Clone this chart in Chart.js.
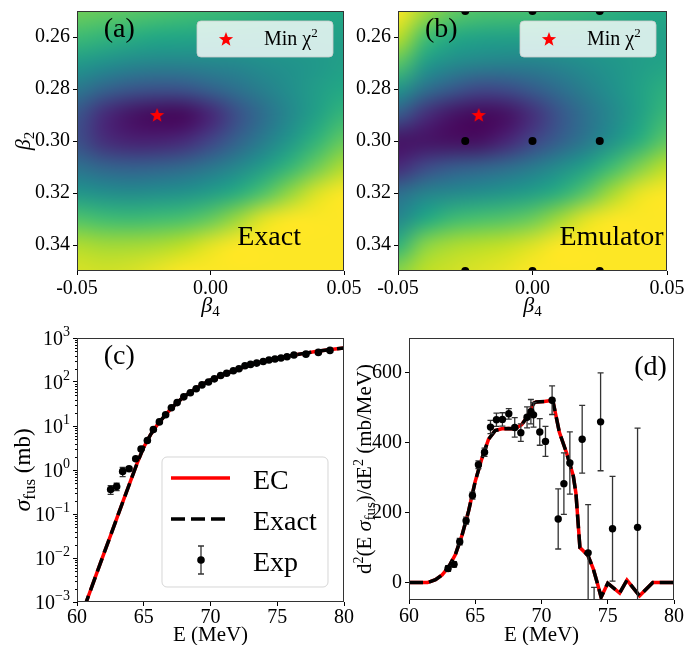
<!DOCTYPE html>
<html>
<head>
<meta charset="utf-8">
<script src="https://cdn.jsdelivr.net/npm/chart.js@4.4.1/dist/chart.umd.min.js"></script>
<style>
  body { margin: 0; background: #fff; }
  #fig { position: relative; width: 687px; height: 645px; overflow: hidden; background: #fff; }
  #fig canvas { position: absolute; }
</style>
</head>
<body>
<div id="fig">
  <canvas id="chA" width="372" height="320" style="left:0;top:0"></canvas>
  <canvas id="chB" width="357" height="320" style="left:330px;top:0"></canvas>
  <canvas id="chC" width="372" height="325" style="left:0;top:320px"></canvas>
  <canvas id="chD" width="357" height="325" style="left:330px;top:320px"></canvas>
</div>
<script>
// ---- datos (a)/(b): nivel de chi2 normalizado (0 = violeta, 1 = amarillo) ----
const b4Grid = [-0.05, -0.04, -0.03, -0.02, -0.01, 0.00, 0.01, 0.02, 0.03, 0.04, 0.05];
const b2Grid = [0.25, 0.26, 0.27, 0.28, 0.29, 0.30, 0.31, 0.32, 0.33, 0.34, 0.35];
const chiExact = [
  [0.78, 0.76, 0.74, 0.72, 0.70, 0.68, 0.66, 0.64, 0.62, 0.61, 0.60],
  [0.68, 0.65, 0.62, 0.60, 0.59, 0.58, 0.57, 0.56, 0.56, 0.56, 0.56],
  [0.54, 0.50, 0.47, 0.45, 0.45, 0.46, 0.47, 0.49, 0.51, 0.53, 0.56],
  [0.40, 0.32, 0.27, 0.25, 0.26, 0.31, 0.37, 0.43, 0.49, 0.55, 0.60],
  [0.26, 0.12, 0.05, 0.02, 0.02, 0.10, 0.24, 0.36, 0.47, 0.57, 0.66],
  [0.24, 0.13, 0.09, 0.09, 0.12, 0.20, 0.31, 0.42, 0.53, 0.65, 0.76],
  [0.37, 0.32, 0.30, 0.31, 0.34, 0.39, 0.46, 0.55, 0.66, 0.78, 0.88],
  [0.52, 0.49, 0.48, 0.49, 0.51, 0.55, 0.62, 0.72, 0.84, 0.95, 1.00],
  [0.72, 0.69, 0.68, 0.69, 0.71, 0.76, 0.85, 0.96, 1.00, 1.00, 1.00],
  [0.88, 0.86, 0.86, 0.87, 0.90, 0.96, 1.00, 1.00, 1.00, 1.00, 1.00],
  [0.94, 0.93, 0.94, 0.97, 1.00, 1.00, 1.00, 1.00, 1.00, 1.00, 1.00],
];
const chiEmu = [
  [1.00, 0.86, 0.76, 0.72, 0.71, 0.70, 0.68, 0.66, 0.63, 0.61, 0.59],
  [0.90, 0.70, 0.61, 0.58, 0.57, 0.57, 0.57, 0.56, 0.56, 0.56, 0.56],
  [0.74, 0.55, 0.48, 0.45, 0.44, 0.44, 0.46, 0.49, 0.52, 0.55, 0.58],
  [0.52, 0.37, 0.28, 0.22, 0.23, 0.29, 0.36, 0.43, 0.50, 0.57, 0.63],
  [0.28, 0.13, 0.05, 0.02, 0.04, 0.13, 0.26, 0.37, 0.47, 0.57, 0.67],
  [0.05, 0.05, 0.04, 0.04, 0.10, 0.20, 0.30, 0.40, 0.51, 0.63, 0.75],
  [0.12, 0.22, 0.28, 0.31, 0.35, 0.41, 0.48, 0.57, 0.69, 0.81, 0.90],
  [0.36, 0.44, 0.47, 0.49, 0.52, 0.56, 0.63, 0.74, 0.87, 0.97, 1.00],
  [0.46, 0.60, 0.68, 0.71, 0.73, 0.77, 0.86, 0.96, 1.00, 1.00, 1.00],
  [0.64, 0.82, 0.87, 0.89, 0.91, 0.95, 1.00, 1.00, 1.00, 1.00, 1.00],
  [0.82, 0.90, 0.93, 0.95, 0.97, 1.00, 1.00, 1.00, 1.00, 1.00, 1.00],
];
const minB4 = [-0.02], minB2 = [0.29];
const trainB4 = [-0.025, 0, 0.025, -0.025, 0, 0.025, -0.025, 0, 0.025];
const trainB2 = [0.25, 0.25, 0.25, 0.30, 0.30, 0.30, 0.35, 0.35, 0.35];
const abXTicks = [-0.05, 0, 0.05];
const abYTicks = [0.26, 0.28, 0.30, 0.32, 0.34];

// ---- datos (c): sigma_fus ----
const curveE = [60.5, 61, 61.5, 62, 62.5, 63, 63.5, 64, 64.5, 65, 65.5, 66, 66.5, 67, 67.5, 68, 68.5, 69, 69.5, 70, 71, 72, 73, 74, 75, 76, 77, 78, 79, 80];
const sigEC = [0.00069, 0.0018, 0.0047, 0.0123, 0.0316, 0.083, 0.214, 0.55, 1.41, 3.3, 6.3, 10.5, 16.2, 24, 34, 46, 59, 74, 91, 110, 148, 195, 245, 295, 347, 398, 447, 501, 550, 589];
const sigExact = sigEC; // EC y Exact coinciden a la escala del gráfico
const expE = [62.52, 62.97, 63.42, 63.9, 64.4, 64.8, 65.27, 65.72, 66.17, 66.64, 67.07, 67.5, 68.0, 68.49, 68.93, 69.36, 69.85, 70.29, 70.76, 71.21, 71.71, 72.13, 72.58, 73.0, 73.46, 73.95, 74.38, 74.83, 75.28, 75.73, 76.25, 77.15, 78.08, 78.95];
const expSig = [0.36, 0.42, 0.93, 1.07, 1.8, 3.0, 4.7, 8.3, 12.4, 18, 26, 34, 46, 57, 70, 86, 100, 118, 141, 158, 180, 200, 234, 251, 269, 293, 316, 333, 350, 375, 410, 430, 471, 523];
const expErr = [0.08, 0.08, 0.22, 0.1, 0.15, 0.25, 0.35, 0.5, 0.7, 1, 1.3, 1.7, 2, 2.5, 3, 3.5, 4, 5, 6, 6, 7, 8, 9, 10, 10, 11, 12, 12, 13, 14, 15, 16, 18, 20];
const cXTicks = [60, 65, 70, 75, 80];
const cYExp = [-3, -2, -1, 0, 1, 2, 3];

// ---- datos (d): d2(E sigma)/dE2 ----
const dE = [60, 61.4, 62, 62.5, 63, 63.5, 64, 64.5, 65, 65.5, 66, 66.5, 67, 67.5, 68, 68.5, 69, 69.4, 69.6, 70.2, 70.85, 71.35, 71.9, 72.4, 72.6, 72.9, 73.5, 73.9, 74.2, 74.5, 75.0, 75.9, 76.45, 77.4, 78.4, 80];
const d2EC = [0, 0, 8, 22, 45, 80, 135, 205, 290, 355, 410, 435, 440, 441, 440, 452, 478, 513, 517, 518, 522, 430, 370, 305, 255, 100, 78, 40, 0, -42, -2, -30, 7, -38, 0, 0];
const d2Exact = d2EC;
const dExpE = [62.95, 63.4, 63.83, 64.31, 64.79, 65.24, 65.7, 66.15, 66.6, 67.05, 67.53, 67.98, 68.44, 68.91, 69.2, 69.4, 69.87, 70.3, 70.8, 71.26, 71.69, 72.14, 73.07, 73.52, 73.97, 74.46, 75.36, 77.25];
const dExpV = [40, 52, 117, 177, 249, 337, 373, 445, 466, 467, 483, 444, 429, 473, 489, 480, 431, 404, 522, 182, 283, 342, 410, 85, -150, 460, 154, 158];
const dExpErr = [8, 8, 9, 10, 10, 11, 12, 19, 19, 19, 15, 28, 25, 30, 35, 35, 38, 43, 41, 86, 88, 89, 97, 138, 136, 140, 150, 284];
const dXTicks = [60, 65, 70, 75, 80];
const dYTicks = [0, 200, 400, 600];

// ---- estilo ----
const SERIF = "'Liberation Serif','Times New Roman',Times,serif";
Chart.defaults.font.family = SERIF;
Chart.defaults.font.size = 20;
Chart.defaults.color = '#000';
Chart.defaults.animation = false;
Chart.defaults.plugins.legend.display = false;
Chart.defaults.plugins.tooltip.enabled = false;

const VIRIDIS = ['#440154', '#482475', '#414487', '#355f8d', '#2a788e', '#21918c', '#22a884', '#44bf70', '#7ad151', '#bddf26', '#fde725'];
const hex = h => [1, 3, 5].map(i => parseInt(h.slice(i, i + 2), 16));
function viridis(v) {
  v = Math.max(0, Math.min(1, v)) * 10;
  const i = Math.min(9, Math.floor(v)), t = v - i;
  const a = hex(VIRIDIS[i]), b = hex(VIRIDIS[i + 1]);
  return a.map((c, k) => Math.round(c + (b[k] - c) * t));
}

function makeStar(size, color) {
  const c = document.createElement('canvas');
  c.width = c.height = size;
  const g = c.getContext('2d'), R = size / 2 - 0.5, r = R * 0.42, cy = size / 2 + R * 0.08;
  g.beginPath();
  for (let i = 0; i < 10; i++) {
    const ang = -Math.PI / 2 + i * Math.PI / 5, rr = i % 2 ? r : R;
    g.lineTo(size / 2 + rr * Math.cos(ang), cy + rr * Math.sin(ang));
  }
  g.closePath();
  g.fillStyle = color;
  g.fill();
  return c;
}
const STAR = makeStar(16, '#ff0000');

// texto con sub/superíndices: [texto, tamaño, 'i' cursiva, dy]
function rich(ctx, segs, x, y, opt = {}) {
  ctx.save();
  ctx.translate(x, y);
  if (opt.rot) ctx.rotate(opt.rot);
  ctx.textBaseline = 'alphabetic';
  ctx.textAlign = 'left';
  ctx.fillStyle = '#000';
  const fonts = segs.map(s => `${s[2] === 'i' ? 'italic ' : ''}${s[1]}px ${SERIF}`);
  const ws = segs.map((s, i) => { ctx.font = fonts[i]; return ctx.measureText(s[0]).width; });
  const tot = ws.reduce((a, b) => a + b, 0);
  let cx = opt.align === 'left' ? 0 : opt.align === 'right' ? -tot : -tot / 2;
  segs.forEach((s, i) => { ctx.font = fonts[i]; ctx.fillText(s[0], cx, s[3] || 0); cx += ws[i]; });
  ctx.restore();
}

function roundBox(ctx, x, y, w, h, r) {
  ctx.beginPath();
  ctx.roundRect(x, y, w, h, r);
  ctx.fillStyle = 'rgba(255,255,255,0.8)';
  ctx.fill();
  ctx.strokeStyle = 'rgba(204,204,204,0.8)';
  ctx.lineWidth = 1;
  ctx.stroke();
}

// ---- plugins ----
const heatPlugin = {
  id: 'heat',
  beforeDatasetsDraw(chart, args, o) {
    if (!o.z) return;
    const { ctx, chartArea: ca, scales: { x, y } } = chart;
    const nr = o.z.length, nc = o.z[0].length;
    const off = document.createElement('canvas');
    off.width = nc; off.height = nr;
    const oc = off.getContext('2d');
    const img = oc.createImageData(nc, nr);
    o.z.forEach((row, r) => row.forEach((v, c) => {
      const k = 4 * (r * nc + c), [R, G, B] = viridis(v);
      img.data[k] = R; img.data[k + 1] = G; img.data[k + 2] = B; img.data[k + 3] = 255;
    }));
    oc.putImageData(img, 0, 0);
    const hx = (o.xs[1] - o.xs[0]) / 2, hy = (o.ys[1] - o.ys[0]) / 2;
    const x0 = x.getPixelForValue(o.xs[0] - hx), x1 = x.getPixelForValue(o.xs[nc - 1] + hx);
    const y0 = y.getPixelForValue(o.ys[0] - hy), y1 = y.getPixelForValue(o.ys[nr - 1] + hy);
    ctx.save();
    ctx.beginPath(); ctx.rect(ca.left, ca.top, ca.width, ca.height); ctx.clip();
    ctx.imageSmoothingEnabled = true;
    ctx.imageSmoothingQuality = 'high';
    ctx.drawImage(off, x0, y0, x1 - x0, y1 - y0);
    ctx.restore();
  }
};

const errPlugin = {
  id: 'errbars',
  beforeDatasetDraw(chart, args, o) {
    if (!o.xs || args.index !== o.index) return;
    const { ctx, chartArea: ca, scales: { x, y } } = chart;
    ctx.save();
    ctx.beginPath(); ctx.rect(ca.left, ca.top, ca.width, ca.height); ctx.clip();
    ctx.strokeStyle = '#333'; ctx.lineWidth = 1.3;
    o.xs.forEach((e, i) => {
      const px = x.getPixelForValue(e);
      const lo = o.vs[i] - o.errs[i], hi = o.vs[i] + o.errs[i];
      const pLo = y.getPixelForValue(lo > 0 || y.type !== 'logarithmic' ? lo : y.min), pHi = y.getPixelForValue(hi);
      ctx.beginPath();
      ctx.moveTo(px, pLo); ctx.lineTo(px, pHi);
      ctx.moveTo(px - 3, pLo); ctx.lineTo(px + 3, pLo);
      ctx.moveTo(px - 3, pHi); ctx.lineTo(px + 3, pHi);
      ctx.stroke();
    });
    ctx.restore();
  }
};

const decoPlugin = {
  id: 'deco',
  afterDatasetsDraw(chart, args, o) {
    const { ctx, chartArea: ca } = chart;
    ctx.save();
    ctx.strokeStyle = '#333'; ctx.lineWidth = 1;
    ctx.strokeRect(Math.round(ca.left) + 0.5, Math.round(ca.top) + 0.5, Math.round(ca.width) - 1, Math.round(ca.height) - 1);
    ctx.restore();
  },
  afterDraw(chart, args, o) {
    const { ctx, chartArea: ca, scales: { x, y } } = chart;
    // títulos de ejes
    if (o.xTitle) rich(ctx, o.xTitle, (ca.left + ca.right) / 2, ca.bottom + o.xTitleOff);
    if (o.yTitle) rich(ctx, o.yTitle, ca.left - o.yTitleOff, (ca.top + ca.bottom) / 2, { rot: -Math.PI / 2 });
    // textos en fracción de ejes
    (o.texts || []).forEach(t => rich(ctx, t.segs, ca.left + t.fx * ca.width, ca.bottom - t.fy * ca.height, { align: 'left' }));
    // etiquetas 10^n y marcas menores (eje log)
    if (o.logExp) {
      ctx.save();
      ctx.strokeStyle = '#000'; ctx.lineWidth = 1;
      o.logExp.forEach((e, k) => {
        const py = y.getPixelForValue(Math.pow(10, e));
        const ex = e < 0 ? '\u2212' + (-e) : String(e);
        rich(ctx, [['10', 20, '', 0], [ex, 14, '', -9]], ca.left - 7, py + 7, { align: 'right' });
        if (k < o.logExp.length - 1) {
          for (let m = 2; m <= 9; m++) {
            const pm = Math.round(y.getPixelForValue(m * Math.pow(10, e))) + 0.5;
            ctx.beginPath(); ctx.moveTo(ca.left - 2, pm); ctx.lineTo(ca.left, pm); ctx.stroke();
          }
        }
      });
      ctx.restore();
    }
    // leyenda "Min chi2"
    if (o.minLegend) {
      const w = 136, h = 36, bx = ca.right - 11 - w, by = ca.top + 10;
      ctx.save();
      roundBox(ctx, bx, by, w, h, 4);
      ctx.drawImage(STAR, bx + 29 - 8, by + 18 - 8);
      ctx.restore();
      rich(ctx, [['Min \u03c7', 20, '', 0], ['2', 13, '', -8]], bx + 67, by + 24, { align: 'left' });
    }
    // leyenda EC / Exact / Exp
    if (o.lineLegend) {
      const w = 166, h = 130, bx = ca.right - 16 - w, by = ca.bottom - 15 - h;
      const rows = [by + 21, by + 62, by + 103];
      ctx.save();
      roundBox(ctx, bx, by, w, h, 5);
      ctx.lineWidth = 3.5;
      ctx.strokeStyle = '#ff0000';
      ctx.beginPath(); ctx.moveTo(bx + 9, rows[0]); ctx.lineTo(bx + 68, rows[0]); ctx.stroke();
      ctx.strokeStyle = '#000'; ctx.setLineDash([14, 6]);
      ctx.beginPath(); ctx.moveTo(bx + 9, rows[1]); ctx.lineTo(bx + 68, rows[1]); ctx.stroke();
      ctx.setLineDash([]);
      ctx.lineWidth = 1.3; ctx.strokeStyle = '#333';
      const ex = bx + 39;
      ctx.beginPath();
      ctx.moveTo(ex, rows[2] - 14); ctx.lineTo(ex, rows[2] + 14);
      ctx.moveTo(ex - 3, rows[2] - 14); ctx.lineTo(ex + 3, rows[2] - 14);
      ctx.moveTo(ex - 3, rows[2] + 14); ctx.lineTo(ex + 3, rows[2] + 14);
      ctx.stroke();
      ctx.fillStyle = '#000';
      ctx.beginPath(); ctx.arc(ex, rows[2], 3.8, 0, 2 * Math.PI); ctx.fill();
      ctx.restore();
      ['EC', 'Exact', 'Exp'].forEach((t, i) => rich(ctx, [[t, 28, '', 0]], bx + 91, rows[i] + 11, { align: 'left' }));
    }
  }
};

// ---- ejes ----
function axis(min, max, ticks, fixed, opts = {}) {
  return {
    type: opts.type || 'linear', min, max, reverse: !!opts.reverse,
    afterBuildTicks: s => { s.ticks = ticks.map(v => ({ value: v })); },
    afterFit: s => {
      if (s.isHorizontal()) s.height = fixed; else s.width = fixed;
      s.paddingLeft = s.paddingRight = s.paddingTop = s.paddingBottom = 0;
    },
    grid: { drawOnChartArea: false, drawTicks: true, tickLength: 4, color: '#000', lineWidth: 1 },
    border: { display: false },
    ticks: { color: '#000', font: { size: 20 }, padding: opts.pad ?? 3, maxRotation: 0, autoSkip: false, callback: opts.fmt || (v => String(v)) },
  };
}
const fmt2 = v => v.toFixed(2);
const pts = (xs, ys) => xs.map((v, i) => ({ x: v, y: ys[i] }));

const b4Title = [['\u03b2', 22, 'i', 0], ['4', 15, '', 4]];
const b2Title = [['\u03b2', 22, 'i', 0], ['2', 15, '', 4]];
const eTitle = [['E (MeV)', 21, '', 0]];
const sigTitle = [['\u03c3', 24, 'i', 0], ['fus', 17, '', 5], [' (mb)', 23, '', 0]];
const d2Title = [['d', 21, '', 0], ['2', 14, '', -8], ['(E ', 21, '', 0], ['\u03c3', 22, 'i', 0], ['fus', 15, '', 4], [')/dE', 21, '', 0], ['2', 14, '', -8], [' (mb/MeV)', 21, '', 0]];

function heatChart(id, z, label, padLeft, padRight, withTrain, yTitle) {
  const datasets = [{
    data: pts(minB4, minB2), pointStyle: STAR, pointRadius: 7, clip: 0, order: 0,
  }];
  if (withTrain) datasets.push({
    data: pts(trainB4, trainB2), pointRadius: 4, pointBackgroundColor: '#000', pointBorderWidth: 0, clip: 0, order: 1,
  });
  return new Chart(document.getElementById(id), {
    type: 'scatter',
    data: { datasets },
    options: {
      responsive: false,
      layout: { padding: { left: 0, top: 11, right: padRight, bottom: 0 } },
      scales: {
        x: axis(-0.05, 0.05, abXTicks, 49, { fmt: fmt2, pad: 2 }),
        y: axis(0.25, 0.35, abYTicks, padLeft, { fmt: fmt2, reverse: true }),
      },
      plugins: {
        heat: { z, xs: b4Grid, ys: b2Grid },
        deco: {
          xTitle: b4Title, xTitleOff: 41, yTitle, yTitleOff: 47, minLegend: true,
          texts: [
            { segs: [[label[0], 28, '', 0]], fx: 0.1, fy: 0.9 },
            { segs: [[label[1], 28, '', 0]], fx: 0.6, fy: 0.1 },
          ],
        },
      },
    },
    plugins: [heatPlugin, decoPlugin],
  });
}

heatChart('chA', chiExact, ['(a)', 'Exact'], 77, 28, false, b2Title);
heatChart('chB', chiEmu, ['(b)', 'Emulator'], 68, 20, true, null);

new Chart(document.getElementById('chC'), {
  type: 'line',
  data: {
    datasets: [
      { label: 'Exp', data: pts(expE, expSig), showLine: false, pointRadius: 3.8, pointBackgroundColor: '#000', pointBorderWidth: 0, order: 0 },
      { label: 'Exact', data: pts(curveE, sigExact), borderColor: '#000', borderWidth: 3.5, borderDash: [14, 6], pointRadius: 0, order: 1 },
      { label: 'EC', data: pts(curveE, sigEC), borderColor: '#ff0000', borderWidth: 3.5, pointRadius: 0, order: 2 },
    ],
  },
  options: {
    responsive: false,
    layout: { padding: { left: 0, top: 18, right: 28, bottom: 0 } },
    scales: {
      x: axis(60, 80, cXTicks, 43, { pad: 0 }),
      y: axis(1e-3, 1e3, cYExp.map(e => Math.pow(10, e)), 77, { type: 'logarithmic', fmt: () => '' }),
    },
    plugins: {
      errbars: { index: 0, xs: expE, vs: expSig, errs: expErr },
      deco: {
        xTitle: eTitle, xTitleOff: 39, yTitle: sigTitle, yTitleOff: 47, logExp: cYExp, lineLegend: true,
        texts: [{ segs: [['(c)', 28, '', 0]], fx: 0.1, fy: 0.9 }],
      },
    },
  },
  plugins: [errPlugin, decoPlugin],
});

new Chart(document.getElementById('chD'), {
  type: 'line',
  data: {
    datasets: [
      { label: 'Exp', data: pts(dExpE, dExpV), showLine: false, pointRadius: 3.7, pointBackgroundColor: '#000', pointBorderWidth: 0, order: 0 },
      { label: 'Exact', data: pts(dE, d2Exact), borderColor: '#000', borderWidth: 3.5, borderDash: [14, 6], pointRadius: 0, order: 1 },
      { label: 'EC', data: pts(dE, d2EC), borderColor: '#ff0000', borderWidth: 3.5, pointRadius: 0, order: 2 },
    ],
  },
  options: {
    responsive: false,
    layout: { padding: { left: 0, top: 18, right: 13, bottom: 0 } },
    scales: {
      x: axis(60, 80, dXTicks, 45, { pad: 1 }),
      y: axis(-50, 700, dYTicks, 79),
    },
    plugins: {
      errbars: { index: 0, xs: dExpE, vs: dExpV, errs: dExpErr },
      deco: {
        xTitle: eTitle, xTitleOff: 41, yTitle: d2Title, yTitleOff: 38,
        texts: [{ segs: [['(d)', 28, '', 0]], fx: 0.85, fy: 0.86 }],
      },
    },
  },
  plugins: [errPlugin, decoPlugin],
});
</script>
</body>
</html>
